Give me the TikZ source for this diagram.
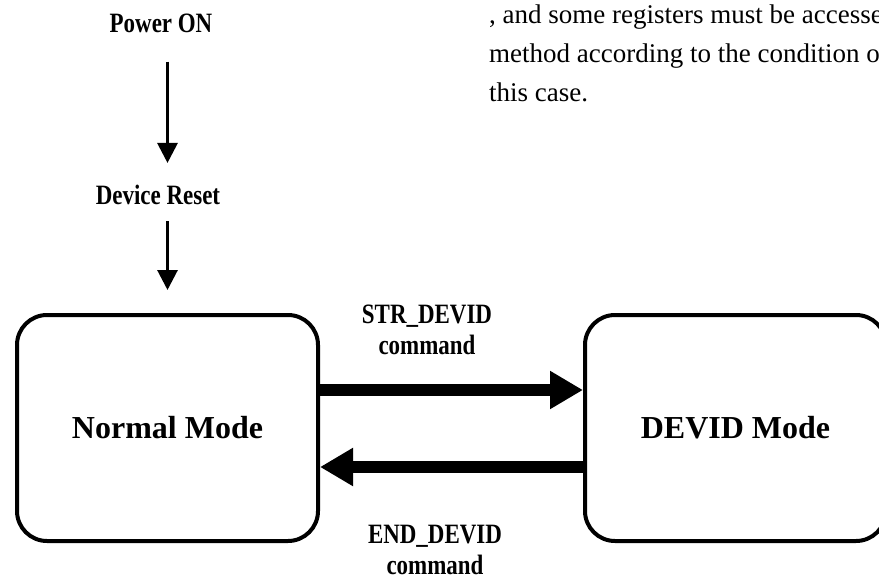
\documentclass[tikz,border=0pt]{standalone}
\usepackage{fontspec}
\setmainfont{Liberation Serif}
\newfontfamily\narrowfont[FakeStretch=0.82]{Liberation Serif}
\usetikzlibrary{arrows.meta}

\tikzset{
  modebox/.style={draw, line width=4pt, rounded corners=30pt,
    minimum width=301pt, minimum height=226pt,
    font=\fontsize{32}{36}\selectfont\bfseries},
  steplabel/.style={inner sep=0pt, align=center,
    font=\narrowfont\fontsize{28}{31}\selectfont\bfseries},
  notetext/.style={inner sep=0pt, anchor=base west,
    font=\fontsize{27}{29}\selectfont},
  thinflow/.style={line width=3pt, -{Triangle[length=20pt,width=20pt]}},
  thickflow/.style={line width=12pt, -{Triangle[length=33pt,width=36pt]}},
}

\begin{document}
\begin{tikzpicture}[x=1pt, y=-1pt]
    \useasboundingbox (0,0) rectangle (879,579);

    % Text beside the figure
    \node[notetext] (note1) at (489,23) {, and some registers must be accesse};
    \node[notetext] (note2) at (489,62) {method according to the condition o};
    \node[notetext] (note3) at (489,101) {this case.};

    % Start up
    \node[steplabel] (power) at (161,23) {Power ON};
    \node[steplabel] (reset) at (158,195) {Device Reset};

    % Modes
    \node[modebox] (normal) at (167.5,428) {Normal Mode};
    \node[modebox] (devid) at (735.5,428) {DEVID Mode};

    \draw[thinflow, shorten <=29pt, shorten >=22pt] (power.south -| normal) -- (reset.north -| normal);
    \draw[thinflow, shorten <=16pt, shorten >=23pt] (reset.south -| normal) -- (normal.north);

    % Commands
    \draw[thickflow] ([yshift=38pt]normal.east) -- ([yshift=38pt]devid.west);
    \draw[thickflow] ([yshift=-39pt]devid.west) -- ([yshift=-39pt]normal.east);
    \node[steplabel] (strcmd) at (427,330) {STR\_DEVID\\command};
    \node[steplabel] (endcmd) at (435,550) {END\_DEVID\\command};

\end{tikzpicture}
\end{document}
